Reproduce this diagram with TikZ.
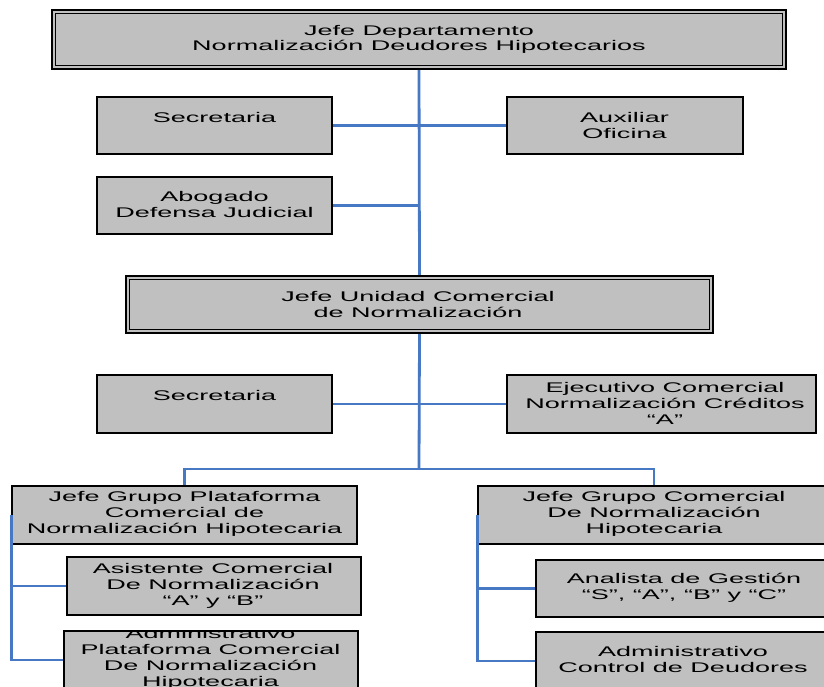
\documentclass[tikz,border=0pt]{standalone}
\usepackage{fontspec}
\setmainfont[FakeStretch=1.93]{Liberation Sans}
\usetikzlibrary{calc}
\definecolor{boxgray}{RGB}{192,192,192}
\definecolor{linkblue}{RGB}{70,120,196}
\begin{document}
\begin{tikzpicture}[x=1pt,y=-1pt,
  post/.style={rectangle, draw=black, line width=1.8pt, fill=boxgray, inner sep=0pt},
  headpost/.style={post, line width=2.2pt},
  lbl/.style={font=\fontsize{14}{16}\selectfont, align=center, inner sep=0pt, text=black},
  link/.style={draw=linkblue, line width=2.8pt}]
\useasboundingbox (0,0) rectangle (824,687);
\clip (0,0) rectangle (824,687);

% --- boxes ---
\node[headpost, minimum width=734pt, minimum height=59pt] (top) at (419,39.5) {};
\draw[line width=1.5pt] ($(top.north west)+(4.5,4.5)$) rectangle ($(top.south east)+(-4.5,-4.5)$);

\node[post, minimum width=235pt, minimum height=57pt] (sec1) at (214.5,125.5) {};
\node[post, minimum width=236pt, minimum height=57pt] (aux)  at (625,125.5) {};
\node[post, minimum width=235pt, minimum height=57pt] (abo)  at (214.5,205.5) {};

\node[headpost, minimum width=587pt, minimum height=57pt] (unidad) at (419.5,304.5) {};
\draw[line width=1.5pt] ($(unidad.north west)+(4.5,4.5)$) rectangle ($(unidad.south east)+(-4.5,-4.5)$);

\node[post, minimum width=235pt, minimum height=58pt] (sec2) at (214.5,404) {};
\node[post, minimum width=309pt, minimum height=58pt] (eje)  at (661.5,404) {};

\node[post, minimum width=345pt, minimum height=58pt] (jgp)  at (184.5,515) {};
\node[post, minimum width=294pt, minimum height=58pt] (asis) at (214,586) {};
\node[post, minimum width=294pt, minimum height=58pt] (adm1) at (211,660) {};

\node[post, minimum width=352pt, minimum height=58pt] (jgc)  at (654,515) {};
\node[post, minimum width=296pt, minimum height=57pt] (ana)  at (684,588.5) {};
\node[post, minimum width=296pt, minimum height=58pt] (adm2) at (684,661) {};

% --- labels ---
\node[lbl, font=\fontsize{14}{15}\selectfont] (t-top) at (419,39) {Jefe Departamento\\Normalización Deudores Hipotecarios};
\node[lbl] (t-sec1) at (214.5,117) {Secretaria};
\node[lbl] (t-aux) at (624.5,125) {Auxiliar\\Oficina};
\node[lbl] (t-abo) at (214.5,204.5) {Abogado\\Defensa Judicial};
\node[lbl] (t-unidad) at (418,304) {Jefe Unidad Comercial\\de Normalización};
\node[lbl] (t-sec2) at (214.5,395) {Secretaria};
\node[lbl] (t-eje) at (665,403) {Ejecutivo Comercial\\Normalización Créditos\\“A”};
\node[lbl] (t-jgp) at (184.5,514) {Jefe Grupo Plataforma\\Comercial de\\Normalización Hipotecaria};
\node[lbl] (t-asis) at (213,585.5) {Asistente Comercial\\De Normalización\\“A” y “B”};
\begin{scope}
  \clip ($(adm1.north west)+(0,1.2)$) rectangle ($(adm1.south east)+(0,0)$);
  \node[lbl] (t-adm1) at (210.5,658.5) {Administrativo\\Plataforma Comercial\\De Normalización\\Hipotecaria};
\end{scope}
\node[lbl] (t-jgc) at (654,514) {Jefe Grupo Comercial\\De Normalización\\Hipotecaria};
\node[lbl] (t-ana) at (684,588) {Analista de Gestión\\“S”, “A”, “B” y “C”};
\node[lbl] (t-adm2) at (683,659) {Administrativo\\Control de Deudores};

% --- connectors ---
\coordinate (fork) at (419,469);
\draw[link] (top.south) -- (unidad.north);
\draw[link] (sec1.east) -- (aux.west);
\draw[link] (abo.east) -- (abo.east -| top.south);
\draw[link] (sec2.east) -- (eje.west);
\draw[link] (unidad.south) -- (fork);
\draw[link] (jgp.north) |- (fork) -| (jgc.north);
\draw[link] (jgp.west) |- (asis.west);
\draw[link] (jgp.west) |- (adm1.west);
\draw[link] (jgc.west) |- (ana.west);
\draw[link] (jgc.west) |- (adm2.west);
\end{tikzpicture}
\end{document}
